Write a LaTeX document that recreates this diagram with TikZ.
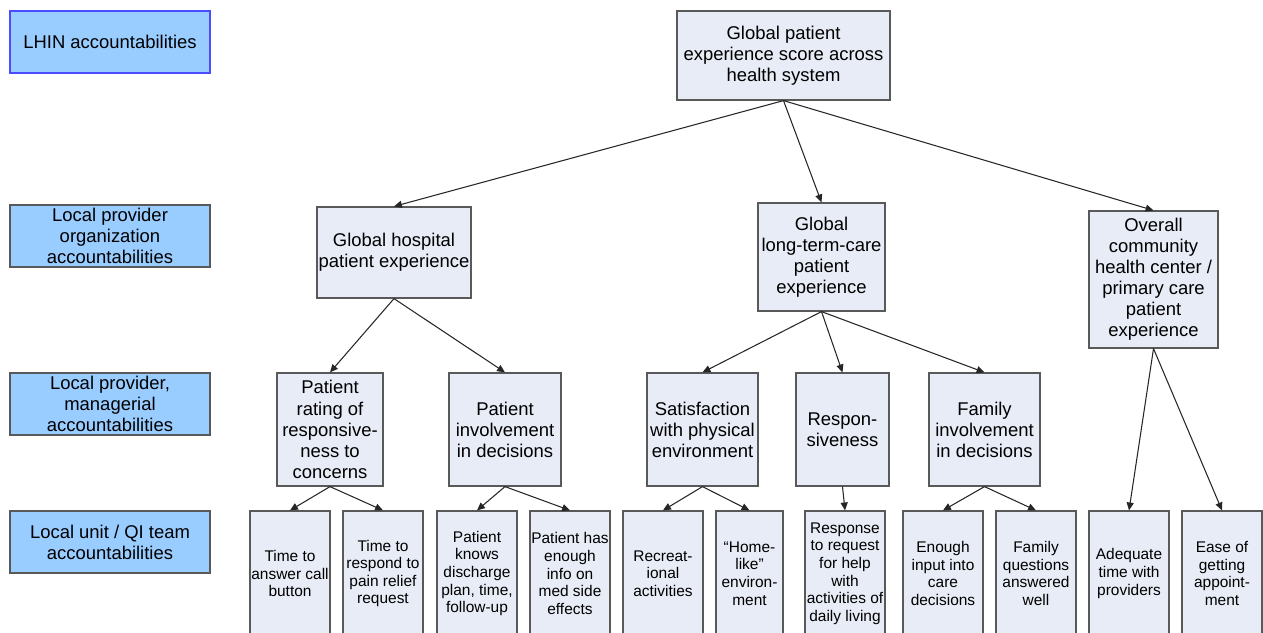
\documentclass[tikz,border=0pt]{standalone}
\usepackage{fontspec}
\setmainfont{Liberation Sans}
\usepackage{tikz}
\usetikzlibrary{arrows.meta}
\tikzset{box/.style={draw=black!65, line width=0.7pt, fill=boxfill, inner sep=0pt, align=center,
    font=\fontsize{10.5}{12}\selectfont},
  leaf/.style={box, minimum width=1.6cm, minimum height=2.5cm, font=\fontsize{8.8}{10}\selectfont},
  level/.style={box, fill=levelfill, minimum width=4cm, minimum height=1.24cm},
  arr/.style={-{Triangle[length=4.5pt,width=4pt]}, line width=0.6pt, draw=black!85}
}
\definecolor{boxfill}{HTML}{E8ECF6}
\definecolor{levelfill}{HTML}{99CCFF}

\begin{document}
\begin{tikzpicture}[x=0.02cm,y=0.02cm]
\useasboundingbox (0,0) rectangle (1263,-632);

%levels
\node[level, draw=blue!70] (lhin) at (110,-42) {LHIN accountabilities};
\node[level] (lorg) at (110,-236) {Local provider\\organization\\accountabilities};
\node[level] (lmgr) at (110,-404) {Local provider,\\managerial\\accountabilities};
\node[level] (lqi) at (110,-542) {Local unit / QI team\\accountabilities};

%0
\node[box, minimum width=4.26cm, minimum height=1.78cm] (glob) at (783.5,-55.5) {Global patient\\experience score across\\health system};

%1
\node[box, minimum width=3.08cm, minimum height=1.82cm] (hosp) at (394,-252.5) {Global hospital\\patient experience};
\node[box, minimum width=2.54cm, minimum height=2.16cm] (ltc) at (821.5,-257) {Global\\long-term-care\\patient\\experience};
\node[box, minimum width=2.58cm, minimum height=2.74cm] (chc) at (1153.5,-279.5) {Overall\\community\\health center /\\primary care\\patient\\experience};
\draw[arr] (glob.south) -- (hosp.north);
\draw[arr] (glob.south) -- (ltc.north);
\draw[arr] (glob.south) -- (chc.north);

%2
\node[box, minimum width=2.12cm, minimum height=2.26cm] (rate) at (330,-429.5) {Patient\\rating of\\responsive-\\ness to\\concerns};
\node[box, minimum width=2.24cm, minimum height=2.26cm] (pinv) at (505,-429.5) {Patient\\involvement\\in decisions};
\node[box, minimum width=2.22cm, minimum height=2.26cm] (phys) at (702.5,-429.5) {Satisfaction\\with physical\\environment};
\node[box, minimum width=1.86cm, minimum height=2.26cm] (resp) at (842.5,-429.5) {Respon-\\siveness};
\node[box, minimum width=2.22cm, minimum height=2.26cm] (finv) at (984.5,-429.5) {Family\\involvement\\in decisions};
\draw[arr] (hosp.south) -- (rate.north);
\draw[arr] (hosp.south) -- (pinv.north);
\draw[arr] (ltc.south) -- (phys.north);
\draw[arr] (ltc.south) -- (resp.north);
\draw[arr] (ltc.south) -- (finv.north);

%3
\node[leaf] (call) at (290,-573.5) {Time to\\answer call\\button};
\node[leaf] (pain) at (383,-573.5) {Time to\\respond to\\pain relief\\request};
\node[leaf] (disc) at (477,-573.5) {Patient\\knows\\discharge\\plan, time,\\follow-up};
\node[leaf] (meds) at (570,-573.5) {Patient has\\enough\\info on\\med side\\effects};
\node[leaf] (recr) at (663,-573.5) {Recreat-\\ional\\activities};
\node[leaf, minimum width=1.34cm] (home) at (749.5,-573.5) {``Home-\\like''\\environ-\\ment};
\node[leaf] (help) at (845,-573.5) {Response\\to request\\for help\\with\\activities of\\daily living};
\node[leaf] (care) at (943,-573.5) {Enough\\input into\\care\\decisions};
\node[leaf] (fams) at (1036,-573.5) {Family\\questions\\answered\\well};
\node[leaf] (time) at (1129,-573.5) {Adequate\\time with\\providers};
\node[leaf] (appt) at (1222,-573.5) {Ease of\\getting\\appoint-\\ment};
\draw[arr] (rate.south) -- (call.north);
\draw[arr] (rate.south) -- (pain.north);
\draw[arr] (pinv.south) -- (disc.north);
\draw[arr] (pinv.south) -- (meds.north);
\draw[arr] (phys.south) -- (recr.north);
\draw[arr] (phys.south) -- (home.north);
\draw[arr] (resp.south) -- (help.north);
\draw[arr] (finv.south) -- (care.north);
\draw[arr] (finv.south) -- (fams.north);
\draw[arr] (chc.south) -- (time.north);
\draw[arr] (chc.south) -- (appt.north);

\end{tikzpicture}
\end{document}
